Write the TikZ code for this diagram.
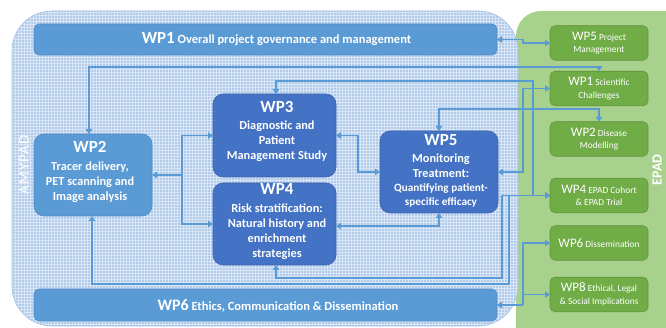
\documentclass[tikz,border=0pt]{standalone}
\usepackage{fontspec}
\setmainfont{Carlito}
\usetikzlibrary{arrows.meta}

\definecolor{regionblue}{HTML}{B2CBEA}
\definecolor{regionedge}{HTML}{9DBFE4}
\definecolor{regiongreen}{HTML}{A9D18E}
\definecolor{midblue}{HTML}{5B9BD5}
\definecolor{midedge}{HTML}{4F8AC4}
\definecolor{darkblue}{HTML}{4472C4}
\definecolor{darkedge}{HTML}{3A63AE}
\definecolor{leafgreen}{HTML}{70AD47}
\definecolor{leafedge}{HTML}{5E9438}
\definecolor{linkblue}{HTML}{5B9BD5}

\begin{document}
\begin{tikzpicture}[x=1pt,y=-1pt,
  every node/.style={inner sep=0pt, outer sep=0pt},
  >={Triangle[length=5pt,width=6.5pt]},
  bar/.style={draw=midedge, fill=midblue, line width=0.6pt, rounded corners=5pt,
    minimum width=463pt},
  bartext/.style={text=white, font=\bfseries\fontsize{12.5}{14}\selectfont},
  wpbox/.style={line width=0.6pt, rounded corners=10pt, minimum width=118pt, minimum height=82pt},
  lightbox/.style={wpbox, draw=midedge, fill=midblue},
  deepbox/.style={wpbox, draw=darkedge, fill=darkblue},
  boxtext/.style={text=white, align=center, font=\bfseries\fontsize{12.3}{15}\selectfont},
  leaf/.style={draw=leafedge, fill=leafgreen, line width=0.6pt, rounded corners=5pt,
    minimum width=98pt, minimum height=34.5pt, text=white, align=center,
    font=\fontsize{9.4}{12.5}\selectfont},
  conn/.style={draw=linkblue, line width=1.8pt},
]
\useasboundingbox (0,0) rectangle (666,328);
\clip (0,0) rectangle (666,328);

% EPAD region
\fill[regiongreen, rounded corners=25pt] (516,11) rectangle (720,360);

% AMYPAD region with its fine grid texture
\fill[regionblue, rounded corners=40pt] (12,11) rectangle (518,326);
\begin{scope}
  \clip[rounded corners=40pt] (12,11) rectangle (518,326);
  \draw[white, line width=0.7pt, opacity=0.5, step=3pt] (0,0) grid (666,328);
\end{scope}
\draw[regionedge, line width=0.6pt, rounded corners=40pt] (12,11) rectangle (518,326);

% region titles
\node[rotate=90, text=white, font=\fontsize{15}{15}\selectfont\addfontfeature{LetterSpace=8}] (amypad) at (24,165) {AMYPAD};
\node[rotate=90, text=white, font=\bfseries\fontsize{14}{14}\selectfont] (epad) at (657,170) {EPAD};

% work packages of AMYPAD
\node[bar, minimum height=31pt] (wp1) at (265.5,39.5) {};
\node[bartext] at (276.5,39.5) {{\fontsize{17}{17}\selectfont WP1} Overall project governance and management};

\node[bar, minimum height=32pt] (wp6) at (265.5,305) {};
\node[bartext] at (278,306) {{\fontsize{16}{16}\selectfont WP6} {\fontsize{12.5}{14}\selectfont Ethics,} Communication \& Dissemination};

\node[lightbox] (wp2) at (93,175) {};
\node[boxtext] at ([xshift=-3pt,yshift=3pt]wp2.center)
  {{\fontsize{17}{17}\selectfont WP2}\\[3pt] Tracer delivery,\\ PET scanning and\\ Image analysis};

\node[deepbox, minimum width=123pt, minimum height=83pt] (wp3) at (274.5,135.5) {};
\node[boxtext] at ([xshift=2.5pt,yshift=4pt]wp3.center)
  {{\fontsize{17}{17}\selectfont WP3}\\[2pt] Diagnostic and\\ Patient\\ Management Study};

\node[deepbox, minimum width=123pt] (wp4) at (274.5,224) {};
\node[boxtext] at ([xshift=2.5pt,yshift=2pt]wp4.center)
  {{\fontsize{17}{17}\selectfont WP4}\\[3pt] Risk stratification:\\ Natural history and\\ enrichment\\ strategies};

\node[deepbox] (wp5) at (439,172) {};
\node[boxtext] at ([xshift=2pt,yshift=1pt]wp5.center)
  {{\fontsize{17}{17}\selectfont WP5}\\[2pt] Monitoring\\ Treatment:\\[-1pt]
   {\fontsize{11.2}{14}\selectfont Quantifying patient-}\\[-1pt]
   {\fontsize{11.2}{14}\selectfont specific efficacy}};

% work packages of EPAD
\node[leaf] (gp5) at (599,43) {{\fontsize{13}{12}\selectfont WP5} Project\\ Management};
\node[leaf] (gp1) at (599,88.5) {{\fontsize{13}{12}\selectfont WP1} Scientific\\ Challenges};
\node[leaf] (gp2) at (599,139) {{\fontsize{13}{12}\selectfont WP2} Disease\\ Modelling};
\node[leaf] (gp4) at (599,195.5) {{\fontsize{13}{12}\selectfont WP4} EPAD Cohort\\ \& EPAD Trial};
\node[leaf] (gp6) at (599,243) {{\fontsize{13}{12}\selectfont WP6} Dissemination};
\node[leaf] (gp8) at (599,294.5) {{\fontsize{13}{12}\selectfont WP8} Ethical, Legal\\ \& Social Implications};

% routing lanes
\coordinate (laneA) at (523,0);
\coordinate (laneB) at (533,0);
\coordinate (laneC) at (502,0);
\coordinate (laneD) at (509,0);
\coordinate (laneE) at (358,0);
\coordinate (laneF) at (182,0);
\coordinate (rowA) at (0,67);
\coordinate (rowB) at (0,81);
\coordinate (rowC) at (0,109);
\coordinate (rowD) at (0,278);
\coordinate (rowE) at (0,284);

% connectors
\draw[conn,<->] (wp1.east) -- (wp1.east -| laneA) |- (gp5.west);
\draw[conn,<->] ([xshift=-4pt]wp2.north) |- (rowA -| gp1.north) -- (gp1.north);
\draw[conn,<->] ([xshift=1.5pt]wp3.north) |- (rowB -| laneB) |- (gp4.west);
\draw[conn,<->] (wp5.east) -- (wp5.east -| laneA) |- (gp1.west);
\draw[conn,<->] (wp5.north) |- (rowC -| gp2.north) -- (gp2.north);
\draw[conn,<->] (wp3.east) -- (wp3.east -| laneE) |- (wp5.west);
\draw[conn,<->] ([yshift=-2pt]wp4.east) -| (wp5.south);
\draw[conn,->] (wp2.east -| laneF) |- (wp3.west);
\draw[conn,->] (wp2.east -| laneF) |- (wp4.west);
\draw[conn,->] (wp2.east -| laneF) -- (wp2.east);
\draw[conn,<->] ([xshift=1.5pt]wp4.south) |- (rowD -| laneC) |- (gp4.west);
\draw[conn,<->] ([xshift=-1pt]wp2.south) |- (rowE -| laneD) |- (gp4.west);
\draw[conn,->] (wp6.east -| laneA) -- (wp6.east);
\draw[conn,->] (wp6.east -| laneA) |- (gp6.west);
\draw[conn,->] (wp6.east -| laneA) |- (gp8.west);
\end{tikzpicture}
\end{document}
